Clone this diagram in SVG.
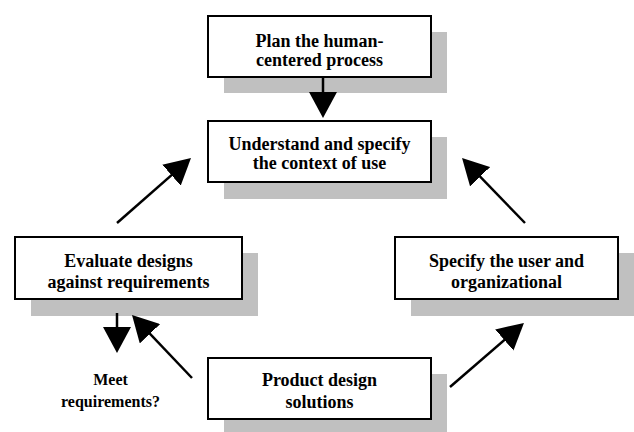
<svg xmlns="http://www.w3.org/2000/svg" width="634" height="432" viewBox="0 0 634 432">
  <style>
    .shadow { fill: #c0c0c0; stroke: none; }
    .box { fill: #ffffff; stroke: #000000; stroke-width: 2; }
    .label { font-family: "Liberation Serif", "Times New Roman", serif; font-weight: bold; font-size: 18px; fill: #000000; text-anchor: middle; }
    .small { font-size: 16px; }
    .conn { stroke: #000000; stroke-width: 2.5; fill: none; marker-end: url(#head); }
  </style>
  <defs>
    <marker id="head" viewBox="0 0 26 28" refX="16" refY="14" markerWidth="26" markerHeight="28" markerUnits="userSpaceOnUse" orient="auto">
      <path d="M0,0 L26,14 L0,28 Z" fill="#000000"/>
    </marker>
  </defs>
  <rect width="634" height="432" fill="#ffffff"/>

  <g id="plan">
    <rect class="shadow" x="224" y="32" width="223" height="61"/>
    <rect class="box" x="208" y="16" width="223" height="61"/>
    <text class="label" x="319.5" y="47">Plan the human-</text>
    <text class="label" x="319.5" y="65.5">centered process</text>
  </g>

  <g id="understand">
    <rect class="shadow" x="224" y="137" width="223" height="62"/>
    <rect class="box" x="208" y="121" width="223" height="61"/>
    <text class="label" x="319.5" y="149.5">Understand and specify</text>
    <text class="label" x="319.5" y="169">the context of use</text>
  </g>

  <g id="evaluate">
    <rect class="shadow" x="31" y="253" width="227" height="63"/>
    <rect class="box" x="15" y="237" width="227" height="62"/>
    <text class="label" x="128.5" y="266.5">Evaluate designs</text>
    <text class="label" x="128.5" y="287.5">against requirements</text>
  </g>

  <g id="specify">
    <rect class="shadow" x="411" y="253" width="223" height="63"/>
    <rect class="box" x="395" y="237" width="223" height="62"/>
    <text class="label" x="506.5" y="266.5">Specify the user and</text>
    <text class="label" x="506.5" y="287.5">organizational</text>
  </g>

  <g id="product">
    <rect class="shadow" x="224" y="374" width="223" height="62"/>
    <rect class="box" x="208" y="358" width="223" height="61"/>
    <text class="label" x="319.5" y="385.5">Product design</text>
    <text class="label" x="319.5" y="407.5">solutions</text>
  </g>

  <g id="meet">
    <text class="label small" x="110.5" y="385">Meet</text>
    <text class="label small" x="110.5" y="406.5">requirements?</text>
  </g>

  <g id="connectors">
    <line class="conn" x1="323" y1="77" x2="323" y2="108"/>
    <line class="conn" x1="117" y1="223" x2="183.5" y2="164.6"/>
    <line class="conn" x1="525" y1="223" x2="469" y2="165.2"/>
    <line class="conn" x1="117" y1="313" x2="117" y2="343"/>
    <line class="conn" x1="192" y1="378" x2="138.9" y2="322.2"/>
    <line class="conn" x1="450" y1="387" x2="516.4" y2="329.5"/>
  </g>
</svg>
